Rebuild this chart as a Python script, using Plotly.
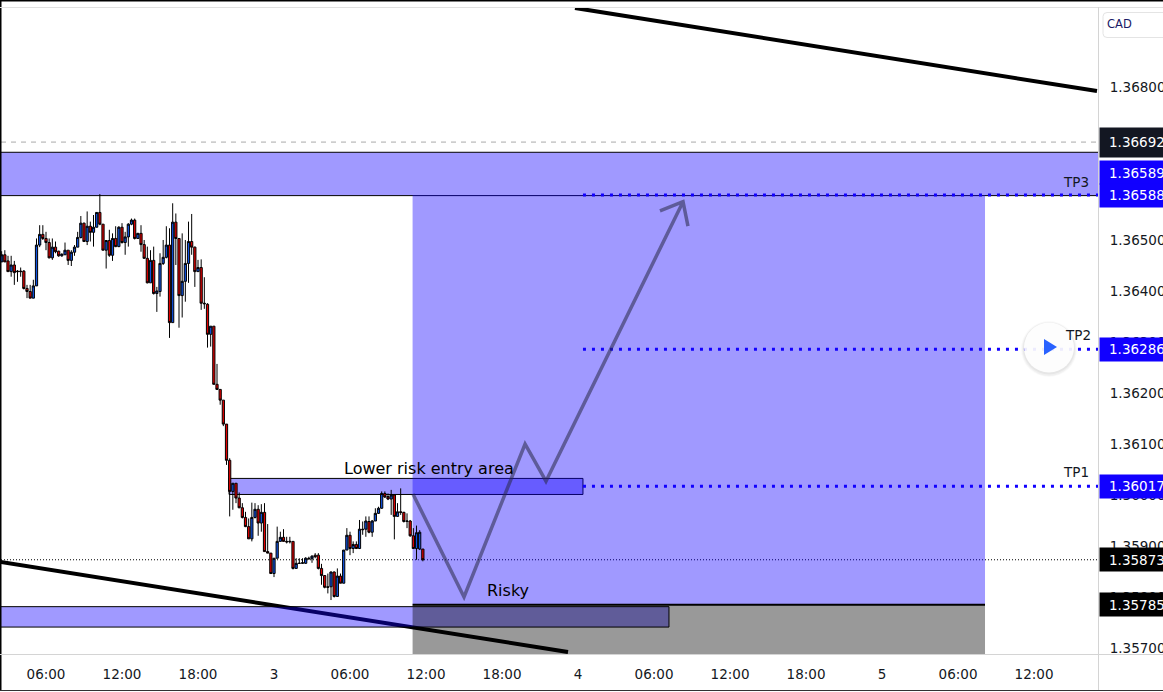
import plotly.graph_objects as go

opens = [136457,136471,136459,136438,136451,136439,136439,136439,136405,136399,136386,136410,136490,136511,136503,136495,136465,136486,136478,136469,136471,136480,136460,136476,136486,136505,136533,136497,136527,136515,136525,136554,136531,136480,136499,136470,136503,136487,136525,136495,136506,136531,136539,136503,136513,136491,136464,136416,136460,136395,136399,136454,136466,136490,136338,136535,136503,136391,136419,136454,136497,136486,136438,136446,136376,136374,136315,136331,
136217,136207,136186,136139,136068,136007,136023,135994,135975,135956,135938,135914,135956,135972,135945,135966,135889,135886,135846,135876,135909,135917,135909,135908,135909,135856,135866,135866,135866,135876,135875,135882,135882,135856,135842,135820,135820,135849,135801,135841,135827,135892,135921,135895,135903,135895,135933,135933,135948,135927,135949,135964,135974,136003,135997,135992,136000,135958,135967,135966,135948,135949,135920,135895,135894,135894]
highs = [136478,136480,136469,136469,136459,136441,136446,136441,136412,136412,136422,136503,136529,136529,136516,136503,136503,136497,136479,136474,136495,136480,136480,136490,136516,136547,136534,136556,136536,136549,136554,136590,136531,136500,136520,136513,136527,136527,136533,136516,136533,136542,136542,136514,136529,136500,136487,136480,136487,136408,136474,136500,136527,136523,136572,136552,136503,136513,136500,136536,136551,136487,136461,136462,136427,136376,136331,136331,
136257,136207,136186,136139,136072,136023,136023,136005,135984,135967,135954,135985,135984,135980,135982,135984,135943,135886,135876,135938,135928,135933,135918,135918,135909,135876,135876,135876,135878,135879,135882,135886,135886,135865,135843,135846,135850,135850,135856,135846,135892,135935,135928,135909,135909,135951,135948,135958,135958,135951,135974,135977,136007,136007,136003,136010,136000,135984,136013,135967,135964,135951,135935,135940,135931,135894]
lows = [136457,136457,136438,136428,136412,136418,136428,136403,136386,136386,136386,136410,136486,136500,136480,136464,136461,136474,136467,136467,136471,136451,136449,136469,136486,136503,136497,136490,136497,136487,136525,136529,136480,136444,136467,136459,136486,136486,136493,136471,136487,136529,136501,136503,136477,136464,136415,136416,136393,136359,136389,136451,136464,136308,136338,136451,136328,136348,136379,136416,136471,136408,136438,136363,136365,136289,136291,136217,
136206,136177,136135,136059,135958,135971,135984,135974,135954,135937,135914,135909,135954,135920,135928,135889,135886,135845,135839,135876,135909,135909,135905,135905,135854,135856,135865,135865,135865,135873,135867,135876,135854,135824,135817,135807,135794,135799,135801,135827,135827,135892,135882,135886,135894,135894,135922,135918,135925,135918,135949,135963,135973,135994,135990,135961,135913,135958,135961,135946,135935,135918,135894,135873,135892,135870]
closes = [136471,136457,136438,136451,136436,136438,136438,136405,136399,136386,136410,136490,136511,136503,136495,136465,136486,136477,136469,136472,136480,136460,136476,136486,136505,136533,136497,136527,136515,136525,136554,136531,136480,136499,136470,136503,136487,136525,136495,136506,136531,136539,136503,136513,136491,136464,136416,136460,136395,136400,136454,136466,136490,136338,136535,136503,136391,136419,136454,136497,136486,136438,136446,136376,136375,136315,136331,136217,
136207,136186,136139,136068,136007,136023,135994,135975,135956,135938,135914,135956,135972,135945,135966,135889,135886,135846,135876,135909,135917,135909,135908,135909,135856,135866,135866,135867,135876,135875,135880,135879,135856,135842,135819,135819,135849,135801,135841,135827,135892,135921,135895,135903,135895,135933,135932,135949,135927,135949,135964,135974,136003,135996,135992,136000,135958,135967,135966,135948,135949,135920,135895,135926,135927,135873]

FIRST_HOUR = 2.5
CANDLE_HOURS = 0.25
hours = [FIRST_HOUR + CANDLE_HOURS * i for i in range(len(opens))]
scale = lambda a: [round(v / 100000, 5) for v in a]

x_ticks = [6, 12, 18, 24, 30, 36, 42, 48, 54, 60, 66, 72, 78, 84]
x_labels = ["06:00", "12:00", "18:00", "3", "06:00", "12:00", "18:00", "4", "06:00", "12:00", "18:00", "5", "06:00", "12:00"]
y_ticks = [1.357, 1.358, 1.359, 1.36, 1.361, 1.362, 1.363, 1.364, 1.365, 1.366, 1.367, 1.368]

X_RANGE = [2.447, 89.05]
Y_RANGE = [1.356882, 1.369549]

tags = [(1.36692, 1.36692, "#131722", 29), (1.36589, 1.36632, "#1100ff", 23), (1.36588, 1.36588, "#1100ff", 23),
        (1.36286, 1.36286, "#1100ff", 23), (1.36017, 1.36017, "#1100ff", 23), (1.35873, 1.35873, "#000000", 23),
        (1.35785, 1.35785, "#000000", 23)]

ZONE = "rgba(17,0,255,0.4)"
DARK_TEXT = "#131722"
FONT = "DejaVu Sans"
W, H, L, R, T, B = 1163, 692, 1, 65, 8, 38
px = lambda v: (v - L) / (W - L - R)
py = lambda v: (H - B - v) / (H - T - B)


def seg(x0, y0, x1, y1, color, width, dash="solid", layer="below"):
    return dict(type="line", xref="x", yref="y", x0=x0, y0=y0, x1=x1, y1=y1, layer=layer,
                line=dict(color=color, width=width, dash=dash))


def box(x0, y0, x1, y1, fill, border=None, layer="below"):
    return dict(type="rect", xref="x", yref="y", x0=x0, y0=y0, x1=x1, y1=y1, layer=layer, fillcolor=fill,
                line=dict(color=border or "rgba(0,0,0,0)", width=1 if border else 0))


def frame(x0, y0, x1, y1, color, width=1):
    return dict(type="line", xref="paper", yref="paper", x0=px(x0), y0=py(y0), x1=px(x1), y1=py(y1), layer="above",
                line=dict(color=color, width=width))


def disc(cx, cy, r, fill):
    return dict(type="circle", xref="paper", yref="paper", x0=px(cx - r), x1=px(cx + r), y0=py(cy + r), y1=py(cy - r),
                layer="above", fillcolor=fill, line=dict(width=0))


shapes = [
    seg(47.76, 1.36955, 88.97, 1.36792, "#000000", 4),
    seg(2.37, 1.35869, 47.21, 1.35692, "#000000", 4),
    seg(X_RANGE[0], 1.36692, X_RANGE[1], 1.36692, "#a9a9a9", 1, "5px,5px"),
    seg(X_RANGE[0], 1.35873, X_RANGE[1], 1.35873, "#000000", 1, "1px,2px"),
    box(-1, 1.36672, 95, 1.36587, ZONE, "#000000"),
    box(20.45, 1.360325, 48.39, 1.36001, ZONE, "#000000"),
    box(-1, 1.35781, 55.18, 1.35741, ZONE, "#000000"),
    box(34.94, 1.36588, 80.13, 1.35785, ZONE),
    box(34.94, 1.35785, 80.13, 1.3568, "rgba(0,0,0,0.4)"),
    seg(34.94, 1.35785, 80.13, 1.35785, "#000000", 2),
    seg(48.39, 1.36588, X_RANGE[1], 1.36588, "#1100ff", 3, "3px,6px"),
    seg(48.39, 1.36286, X_RANGE[1], 1.36286, "#1100ff", 3, "3px,6px"),
    seg(48.39, 1.36017, X_RANGE[1], 1.36017, "#1100ff", 3, "3px,6px"),
    dict(type="path", xref="x", yref="y", layer="above", line=dict(color="rgba(40,40,70,0.55)", width=3.5),
         path="M 34.97 1.36002 L 39.0 1.358 L 43.82 1.361 L 45.47 1.36027 L 56.29 1.36575 "
              "M 54.47 1.36557 L 56.29 1.36575 L 56.68 1.36527"),
    frame(0, 0.5, W, 0.5, "#000000", 2),
    frame(0.5, 0, 0.5, 691, "#000000", 2),
    frame(0, 690.5, W, 690.5, "#333333", 1),
    frame(0, 7.5, W, 7.5, "#e0e0e0", 1),
    frame(1098.5, 7, 1098.5, 690, "#d4d4d4", 1),
    frame(0, 654.5, W, 654.5, "#d4d4d4", 1),
    dict(type="path", xref="paper", yref="paper", layer="above", line=dict(color="#e4e4e4", width=1), fillcolor="#ffffff",
         path=f"M {px(1170)} {py(12.5)} L {px(1107)} {py(12.5)} Q {px(1103)} {py(12.5)} {px(1103)} {py(16.5)} "
              f"L {px(1103)} {py(33.5)} Q {px(1103)} {py(37.5)} {px(1107)} {py(37.5)} L {px(1170)} {py(37.5)}"),
    disc(1049, 349, 28, "rgba(0,0,0,0.025)"),
    disc(1049, 349, 27, "rgba(0,0,0,0.035)"),
    disc(1049, 348.5, 26, "rgba(0,0,0,0.04)"),
    disc(1049, 347.5, 25, "rgba(255,255,255,0.92)"),
    dict(type="path", xref="paper", yref="paper", layer="above", fillcolor="#2962ff", line=dict(width=0),
         path=f"M {px(1044)} {py(339)} L {px(1044)} {py(355)} L {px(1057)} {py(347)} Z"),
]


def note(x, y, text, size=13.5, color=DARK_TEXT):
    return dict(xref="x", yref="y", x=x, y=y, text=text, showarrow=False, xanchor="center", yanchor="middle",
                font=dict(family=FONT, size=size, color=color))


annotations = [
    note(36.24, 1.36051, "Lower risk entry area", 16, "#000000"),
    note(42.47, 1.35812, "Risky", 16, "#000000"),
    note(87.31, 1.36614, "TP3"),
    note(87.47, 1.36314, "TP2"),
    note(87.31, 1.36045, "TP1"),
]
for price, where, color, height in tags:
    annotations.append(dict(xref="paper", yref="y", x=px(1099), y=where, text=" ", showarrow=False, xanchor="left",
                            yanchor="middle", width=66, height=height, bgcolor=color, borderpad=0,
                            font=dict(size=10)))
for price, where, color, height in tags:
    annotations.append(dict(xref="paper", yref="y", x=px(1107), y=where, text=f"{price:.5f}", showarrow=False,
                            xanchor="left", yanchor="middle", font=dict(family=FONT, size=13.5, color="#ffffff")))
annotations.append(dict(xref="paper", yref="paper", x=px(1105), y=py(24.5), text="CAD", showarrow=False, xanchor="left",
                        yanchor="middle", font=dict(family=FONT, size=11.5, color="#1a1a66")))

fig = go.Figure(go.Candlestick(
    x=hours, open=scale(opens), high=scale(highs), low=scale(lows), close=scale(closes),
    increasing=dict(fillcolor="#0f52e0", line=dict(color="#000000", width=1)),
    decreasing=dict(fillcolor="#e00000", line=dict(color="#000000", width=1)),
    whiskerwidth=0, hoverinfo="skip", showlegend=False,
))
fig.update_layout(
    width=W, height=H, margin=dict(l=L, r=R, t=T, b=B, pad=0, autoexpand=False),
    paper_bgcolor="#ffffff", plot_bgcolor="#ffffff", showlegend=False, boxgap=0,
    font=dict(family=FONT, size=13.5, color=DARK_TEXT),
    shapes=shapes, annotations=annotations,
    xaxis=dict(range=X_RANGE, tickmode="array", tickvals=x_ticks, ticktext=x_labels, showgrid=False, zeroline=False,
               rangeslider=dict(visible=False), ticks="outside", ticklen=8, tickcolor="rgba(0,0,0,0)",
               showline=False, ticklabeloverflow="allow"),
    yaxis=dict(range=Y_RANGE, side="right", tickmode="array", tickvals=y_ticks,
               ticktext=[f"{v:.5f}" for v in y_ticks], showgrid=False, zeroline=False, ticks="outside", ticklen=8,
               tickcolor="rgba(0,0,0,0)", showline=False, ticklabeloverflow="allow"),
)
fig.write_html("out.html", config=dict(displayModeBar=False),
               post_script="document.body.style.margin='0';document.body.style.overflow='hidden';")
